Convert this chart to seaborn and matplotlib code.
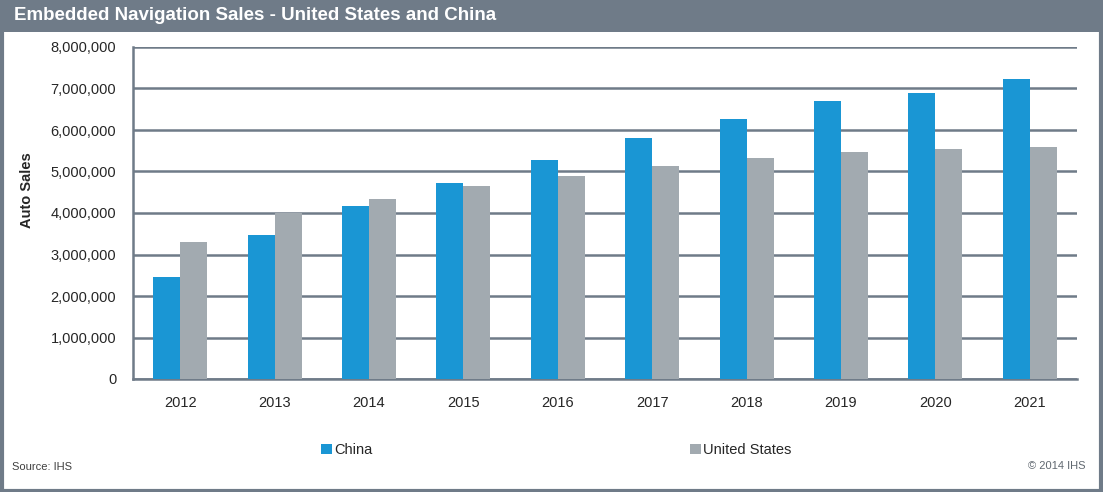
import pandas as pd
import matplotlib
matplotlib.use("Agg")
import matplotlib.pyplot as plt
from matplotlib.patches import Rectangle, Patch
from matplotlib.ticker import FuncFormatter, FixedLocator
import seaborn as sns

# data
years = ["2012", "2013", "2014", "2015", "2016", "2017", "2018", "2019", "2020", "2021"]
china = [2450000, 3480000, 4180000, 4720000, 5280000, 5810000, 6270000, 6690000, 6890000, 7240000]
usa = [3310000, 3990000, 4340000, 4650000, 4890000, 5130000, 5330000, 5480000, 5550000, 5590000]
series_names = ["China", "United States"]
colors = ["#1a96d4", "#a2aab0"]
frame_col = "#6f7b88"

df = pd.DataFrame({"year": years * 2,
                   "sales": china + usa,
                   "series": [series_names[0]] * len(years) + [series_names[1]] * len(years)})

sns.set_style("white")
plt.rcParams["font.family"] = ["Liberation Sans", "DejaVu Sans"]

fig = plt.figure(figsize=(11.03, 4.92), dpi=100)
W, H = 1103, 492
ax = fig.add_axes([133 / W, (H - 379) / H, (1077 - 133) / W, (379 - 47) / H])

sns.barplot(data=df, x="year", y="sales", hue="series", palette=colors,
            width=0.57, saturation=1, ax=ax, legend=False, zorder=3,
            edgecolor="none", linewidth=0)

ax.set_xlim(-0.5, 9.5)
ax.set_ylim(0, 8000000)
ax.set_yticks(range(0, 8000001, 1000000))
ax.yaxis.set_major_formatter(FuncFormatter(lambda v, p: f"{int(v):,}"))
ax.grid(axis="y", color=frame_col, linewidth=1.8, zorder=0)
ax.set_axisbelow(True)

for s in ["top", "right"]:
    ax.spines[s].set_visible(False)
for s in ["left", "bottom"]:
    ax.spines[s].set_color(frame_col)
    ax.spines[s].set_linewidth(1.8)

ax.xaxis.set_minor_locator(FixedLocator([i + 0.5 for i in range(9)]))
ax.tick_params(axis="x", which="major", length=0, pad=12, labelsize=10.5)
ax.tick_params(axis="x", which="minor", direction="in", length=5, width=1.5, color=frame_col)
ax.tick_params(axis="y", length=0, pad=12, labelsize=10.5)
ax.set_xlabel("")
ax.set_ylabel("Auto Sales", fontsize=10.5, fontweight="bold")
ax.yaxis.set_label_coords(-(133 - 34) / 944, 0.57)

# title bar and outer frame
fig.patches.append(Rectangle((0, 1 - 32 / H), 1, 32 / H, transform=fig.transFigure,
                             facecolor=frame_col, edgecolor="none", zorder=0))
fig.patches.append(Rectangle((0.0015, 0.003), 0.997, 0.994, transform=fig.transFigure,
                             facecolor="none", edgecolor=frame_col, linewidth=3, zorder=5))
fig.text(14 / W, 1 - 16 / H, "Embedded Navigation Sales - United States and China",
         color="white", fontsize=13.5, fontweight="bold", va="center", ha="left")

# legend
handles = [Patch(facecolor=c, edgecolor="none") for c in colors]
fig.legend(handles, series_names, loc="center left", bbox_to_anchor=(308 / W, 1 - 450 / H),
           ncol=2, frameon=False, fontsize=10.5, handlelength=0.75, handleheight=0.75,
           handletextpad=0.15, columnspacing=21.75)

fig.text(12 / W, 1 - 467 / H, "Source: IHS", fontsize=8, color="#404040", va="center")
fig.text(1085 / W, 1 - 466 / H, "\u00a9 2014 IHS", fontsize=8, color="#606870", va="center", ha="right")

fig.savefig("out.png", dpi=100)
